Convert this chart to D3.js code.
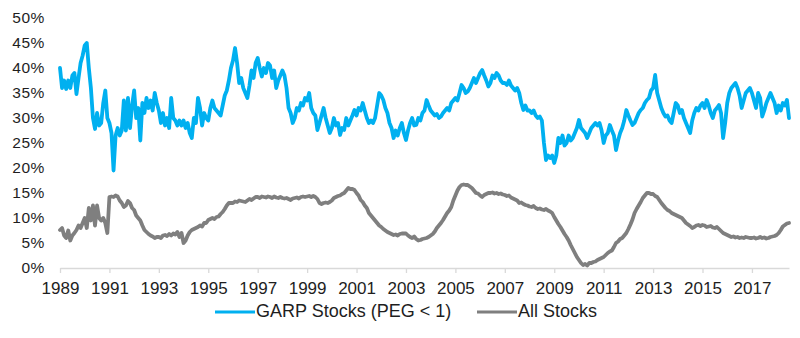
<!DOCTYPE html>
<html>
<head>
<meta charset="utf-8">
<script src="https://cdnjs.cloudflare.com/ajax/libs/d3/7.8.5/d3.min.js"></script>
<style>
    body { margin: 0; background: #ffffff; }
    text { font-family: "Liberation Sans", Arial, sans-serif; fill: #1e1e1e; }
</style>
</head>
<body>
<div class="container-chart"></div>
<script>
// monthly observations, starting January 1989
var startYear = 1989;

var garpStocks = [
    40, 36, 37.5, 35.8, 37.5, 36, 38.5, 39, 34.8, 38, 41, 42.5,           // 1989
    44.5, 45, 40, 36, 30, 27.8, 31, 28.5, 29, 33, 35.5, 30,               // 1990
    29, 27, 19.5, 26.5, 28, 26.5, 27.5, 33.5, 27.5, 34, 28, 32.5,         // 1991
    35.5, 30, 32, 25.5, 33, 31, 34, 32, 33.5, 31.5, 35, 33,               // 1992
    31.5, 29, 31, 28.5, 30, 28, 34, 30, 29.5, 28.5, 29.5, 28.5,           // 1993
    29.5, 28, 29, 27, 26, 30, 29, 34, 32, 28.5, 31, 30,                   // 1994
    29.5, 32, 33.5, 32, 31.5, 31, 30.5, 32.5, 34.5, 35.5, 37.5, 40,       // 1995
    41.5, 44, 41, 37, 38, 36, 35, 34, 36.5, 39.5, 38, 41,                 // 1996
    42, 40, 38.3, 40, 39, 41, 40.5, 38, 39.5, 36, 37.5, 38.5,             // 1997
    39.5, 38.5, 36, 32, 31, 29, 30, 32, 31.5, 33, 32.5, 34,               // 1998
    33.5, 35, 32, 31, 30.5, 27.6, 29, 30.5, 32, 30, 28.5, 27,             // 1999
    28, 30, 28.5, 29, 26.6, 28, 27.6, 30, 28.5, 29.5, 30.5, 31.6,         // 2000
    30.5, 32, 31.5, 33, 31.5, 30, 29, 29.5, 29, 30, 32.5, 35,             // 2001
    34.5, 33.6, 32, 31, 29, 28, 26, 27.5, 26.5, 28, 29, 27,               // 2002
    25.6, 27.5, 29, 30, 28.5, 28.6, 30, 29.5, 31, 31.5, 33.6, 32.5,       // 2003
    31.5, 31, 30.5, 30.8, 30, 30.3, 31, 31.5, 32, 31.5, 33, 33.5,         // 2004
    34, 33.5, 35, 36.6, 36, 35, 35.3, 36, 37, 38, 37, 38,                 // 2005
    39, 39.6, 38.5, 37.5, 36.3, 37, 38.5, 38, 39, 38.5, 37.5, 37,         // 2006
    37, 36.6, 37.5, 36.5, 36, 35.5, 36, 35, 33, 31.6, 32.5, 31.5,         // 2007
    31.5, 31, 31.5, 30.5, 30, 30.3, 29.5, 25, 21.6, 22.5, 22, 22.5,       // 2008
    21, 22.5, 26, 25, 26.5, 24.5, 25, 26.5, 25.5, 26, 27, 28,             // 2009
    29.6, 28, 27.5, 27, 26, 27, 28, 28.5, 29, 28.5, 29, 27.5,             // 2010
    25, 26.5, 27, 28.6, 27.5, 26.5, 23.6, 25.5, 27, 28, 29.5, 31.6,       // 2011
    30.5, 29.5, 28.6, 29, 30, 31, 31.6, 32, 33, 33.6, 34, 35.5,           // 2012
    36, 38.6, 35, 33.5, 32, 31, 30.3, 30.5, 29.5, 29, 31, 33,             // 2013
    32.5, 31, 31.6, 30, 29, 28, 27, 29.5, 31, 32, 31.5, 32.5,             // 2014
    33, 32, 33.6, 32.5, 31, 30, 31.5, 32, 32.6, 31, 26, 29,               // 2015
    33, 35, 36, 36.5, 37, 36, 34.5, 32, 33.5, 35, 35.5, 36,               // 2016
    35, 33.5, 32, 35, 34, 30.3, 31.5, 33, 34, 35, 34, 33,                 // 2017
    31, 32.5, 31.5, 33, 32.5, 33.6, 30                                    // 2018
];

var allStocks = [
    7.6, 8, 6.5, 6, 7.5, 5.5, 6.5, 7, 7.6, 8.5, 8, 9,                     // 1989
    10, 8, 12, 9.5, 12.5, 8.5, 12.5, 10, 9.5, 10, 9, 7,                   // 1990
    14.2, 14.3, 14.2, 14.5, 14.3, 13.5, 13, 12.2, 12.5, 13.4, 13, 12,     // 1991
    11.6, 10.5, 10, 9.5, 8.5, 7.6, 7.2, 6.8, 6.5, 6.3, 6, 6.2,            // 1992
    6.2, 6, 6.5, 6.6, 6.4, 6.8, 6.5, 6.9, 6.7, 7.2, 6.2, 7,               // 1993
    5, 5.5, 6.5, 7.2, 7.6, 7.8, 8, 8.2, 8.5, 8.3, 9, 9,                   // 1994
    9.6, 9.8, 10, 9.8, 10.2, 10.3, 10.8, 11.2, 11.8, 12.5, 13, 13,        // 1995
    13, 13.3, 13.2, 13.5, 13.4, 13.3, 13.2, 13.5, 13.8, 13.6, 13.9, 14.2, // 1996
    14.2, 14, 14.3, 14.2, 14.1, 14.3, 14.2, 14, 14.3, 14.1, 14, 14.2,     // 1997
    14, 13.9, 14, 13.8, 13.6, 13.9, 14, 14.1, 13.9, 14.2, 14.3, 14.2,     // 1998
    14.3, 14.4, 14.2, 14.4, 14.2, 13.8, 13, 12.8, 13, 13.1, 13, 13.2,     // 1999
    13.5, 14, 14.2, 14.4, 14.5, 14.8, 15, 15.5, 16, 15.8, 15.8, 15.6,     // 2000
    15, 14.5, 13.6, 13.2, 12.5, 12, 11, 10.5, 10, 9.5, 9, 8.5,            // 2001
    8.2, 7.8, 7.5, 7.2, 7, 6.8, 6.6, 6.7, 6.5, 6.8, 6.9, 6.9,             // 2002
    6.9, 6.5, 6.2, 6, 6.3, 5.8, 5.5, 5.6, 5.8, 5.9, 6, 6.2,               // 2003
    6.5, 6.8, 7.3, 8, 8.5, 9, 9.6, 10.3, 11, 11.5, 12.2, 13.5,            // 2004
    14.5, 15.5, 16.2, 16.6, 16.7, 16.6, 16.6, 16.3, 16, 15.5, 15, 14.9,   // 2005
    14.5, 14.2, 14.6, 14.8, 15, 15, 15.1, 14.9, 15, 14.8, 14.9, 14.7,     // 2006
    14.6, 14.4, 14.5, 14.1, 13.9, 13.7, 13.5, 13, 13.1, 12.8, 12.6, 12.5, // 2007
    12.3, 12.2, 12.4, 12, 11.8, 11.9, 11.7, 11.6, 11.8, 11.5, 11.3, 11,   // 2008
    10.2, 9.5, 8.8, 8.2, 7.5, 6.8, 6.2, 5.5, 4.6, 3.8, 3, 2.2,            // 2009
    1.6, 1, 0.6, 0.8, 0.5, 1, 1, 1.2, 1.3, 1.6, 1.8, 2,                   // 2010
    2.2, 2.6, 3, 3.3, 3.5, 4.2, 5, 5.3, 5.8, 6, 6.5, 7,                   // 2011
    7.8, 8.7, 9.7, 11, 11.8, 12.5, 13.2, 14, 14.5, 15, 15, 14.8,          // 2012
    14.8, 14.4, 14.2, 13.6, 13, 12.5, 12, 11.6, 11.4, 11, 10.8, 10.6,     // 2013
    10.4, 10.2, 10, 9.5, 9, 8.7, 8.4, 8, 8.2, 8.5, 8.6, 8.4,              // 2014
    8.6, 8.5, 8.2, 8.3, 8.4, 8.1, 8, 8.2, 7.8, 7.4, 7, 6.8,               // 2015
    6.6, 6.4, 6.2, 6.3, 6.1, 6.2, 6, 6.1, 6, 6.2, 6.1, 6,                 // 2016
    6, 6.1, 5.9, 6, 6.2, 6, 6.1, 5.9, 6, 6.2, 6.3, 6.4,                   // 2017
    6.6, 7, 7.6, 8.3, 8.6, 8.9, 9                                         // 2018
];

var yearTicks = [1989, 1991, 1993, 1995, 1997, 1999, 2001, 2003, 2005, 2007, 2009, 2011, 2013, 2015, 2017];
var percentTicks = [0, 5, 10, 15, 20, 25, 30, 35, 40, 45, 50];
var seriesNames = ["GARP Stocks (PEG < 1)", "All Stocks"];
var seriesColors = ["#00b0f0", "#7f7f7f"];

window.onload = function() {
    var svg = d3.select(".container-chart").append("svg")
        .attr("width", 800)
        .attr("height", 338);

    // Scales
    var xScale = d3.scaleLinear()
        .domain([1989, 2018.5])
        .range([60, 789]);

    var yScale = d3.scaleLinear()
        .domain([0, 50])
        .range([268, 18]);

    // x axis: light line, small ticks below, every other year
    var xAxis = d3.axisBottom(xScale)
        .tickValues(yearTicks)
        .tickFormat(d3.format("d"))
        .tickSizeInner(5)
        .tickSizeOuter(0)
        .tickPadding(9);

    var gx = svg.append("g")
        .attr("transform", "translate(0," + yScale(0) + ")")
        .call(xAxis);
    gx.select(".domain").attr("stroke", "#d9d9d9").attr("stroke-width", 1.3);
    gx.selectAll(".tick line").attr("stroke", "#d9d9d9").attr("stroke-width", 1.3);
    gx.selectAll(".tick text")
        .attr("fill", "#1e1e1e")
        .style("font-size", "17px")
        .style("font-family", "'Liberation Sans', Arial, sans-serif");

    // y axis: labels only
    var yAxis = d3.axisLeft(yScale)
        .tickValues(percentTicks)
        .tickFormat(function (d) { return d + "%"; })
        .tickSize(0)
        .tickPadding(0);

    var gy = svg.append("g")
        .attr("transform", "translate(45,0)")
        .call(yAxis);
    gy.select(".domain").remove();
    gy.selectAll(".tick text")
        .attr("fill", "#1e1e1e")
        .style("font-size", "15.5px")
        .style("letter-spacing", "0.6px")
        .style("font-family", "'Liberation Sans', Arial, sans-serif");

    // Lines
    var line = d3.line()
        .x(function (d, i) { return xScale(startYear + i / 12); })
        .y(function (d) { return yScale(d); });

    var series = [allStocks, garpStocks];
    var colors = [seriesColors[1], seriesColors[0]];

    svg.selectAll("path.series")
        .data(series)
        .enter()
        .append("path")
        .attr("class", "series")
        .attr("fill", "none")
        .attr("stroke", function (d, i) { return colors[i]; })
        .attr("stroke-width", 3.8)
        .attr("stroke-linejoin", "round")
        .attr("stroke-linecap", "round")
        .attr("d", line);

    // Legend
    var legendX = [215, 477];
    var legend = svg.selectAll("g.legend")
        .data(seriesNames)
        .enter()
        .append("g")
        .attr("class", "legend")
        .attr("transform", function (d, i) { return "translate(" + legendX[i] + ",312)"; });

    legend.append("line")
        .attr("x1", 0)
        .attr("x2", 40)
        .attr("stroke", function (d, i) { return seriesColors[i]; })
        .attr("stroke-width", 3);

    legend.append("text")
        .attr("x", 41)
        .attr("y", 5)
        .style("font-size", "18px")
        .text(function (d) { return d; });
};
</script>
</body>
</html>
